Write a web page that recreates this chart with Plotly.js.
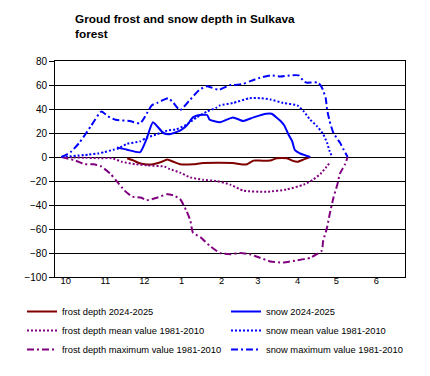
<!DOCTYPE html>
<html>
<head>
<meta charset="utf-8">
<script src="https://cdn.plot.ly/plotly-3.0.1.min.js"></script>
<style>html,body{margin:0;padding:0;background:#fff;}#chart{width:430px;height:376px;}</style>
</head>
<body>
<div id="chart"></div>
<script>
// x values: days since 1 October
var monthStarts = [0, 31, 61, 92, 123, 151, 182, 212, 243];
var monthLabels = ['10', '11', '12', '1', '2', '3', '4', '5', '6'];

var frostDay = [56, 61, 65, 70, 76, 80, 85, 87, 92, 97, 107, 115, 138, 144, 149, 154, 159, 167, 172, 180, 184, 188, 193, 198];
var frost = [-1, -3, -5, -6, -6, -5, -3, -2, -4, -6, -6, -5, -5, -6, -6, -3, -3, -3, -1, -1, -3, -4, -2, 0];

var snowDay = [48, 56, 66, 71, 76, 84, 89, 97, 102, 107, 112, 118, 120, 128, 138, 146, 154, 164, 168, 175, 178, 181, 184, 186, 190, 195, 198];
var snow = [8, 6, 4, 15, 29, 20, 19, 22, 26, 33, 35, 35, 31, 29, 33, 30, 33, 36, 36, 30, 26, 19, 13, 6, 3, 1, 0];

var frostMeanDay = [5, 34, 44, 52, 62, 72, 85, 89, 97, 105, 115, 125, 136, 146, 164, 180, 193, 200, 206, 210, 213];
var frostMean = [0, -1, -1, -4, -6, -7, -8, -10, -13, -17, -19, -20, -23, -28, -29, -27, -23, -19, -14, -9, -5];

var snowMeanDay = [5, 26, 34, 38, 45, 49, 56, 66, 71, 79, 87, 94, 102, 110, 118, 125, 128, 138, 151, 159, 167, 177, 188, 193, 198, 203, 208, 211, 213, 215];
var snowMean = [0, 2, 3, 4, 6, 7, 11, 13, 16, 19, 22, 23, 27, 33, 38, 41, 43, 45, 49, 49, 48, 45, 43, 38, 31, 26, 19, 12, 5, 0];

var frostMaxDay = [5, 16, 23, 30, 36, 43, 47, 54, 60, 67, 71, 79, 87, 92, 97, 102, 105, 107, 113, 120, 128, 136, 144, 151, 159, 167, 177, 188, 198, 203, 207, 208, 211, 213, 216, 219, 221, 225, 227];
var frostMax = [0, -3, -6, -6, -8, -14, -19, -28, -33, -34, -36, -34, -31, -32, -35, -45, -53, -63, -67, -74, -80, -81, -80, -81, -84, -87, -88, -86, -84, -81, -78, -70, -59, -48, -34, -23, -14, -6, 0];

var snowMaxDay = [5, 12, 19, 28, 36, 41, 47, 58, 66, 70, 75, 79, 88, 92, 97, 105, 112, 118, 127, 136, 138, 146, 151, 159, 167, 175, 182, 189, 193, 195, 204, 207, 210, 211, 213, 216, 221, 224, 227];
var snowMax = [0, 4, 12, 26, 38, 34, 31, 30, 28, 34, 43, 45, 49, 45, 39, 48, 56, 59, 56, 60, 60, 61, 63, 66, 68, 67, 68, 68, 63, 62, 62, 58, 49, 40, 30, 20, 12, 6, 0];

var seriesNames = ['frost depth 2024-2025', 'snow 2024-2025', 'frost depth mean value 1981-2010',
  'snow mean value 1981-2010', 'frost depth maximum value 1981-2010', 'snow maximum value 1981-2010'];

var MAROON = '#800000', BLUE = '#0000FF', PURPLE = '#800080';
var DOT = '2px,2px', DASHDOT = '7px,3px,2px,3px';

function tr(x, y, name, color, dash) {
  return {x: x, y: y, name: name, type: 'scatter', mode: 'lines',
    line: {color: color, width: 2, dash: dash, shape: 'spline', smoothing: 0.5},
    hoverinfo: 'skip'};
}

var data = [
  tr(frostDay, frost, seriesNames[0], MAROON, 'solid'),
  tr(snowDay, snow, seriesNames[1], BLUE, 'solid'),
  tr(frostMeanDay, frostMean, seriesNames[2], PURPLE, DOT),
  tr(snowMeanDay, snowMean, seriesNames[3], BLUE, DOT),
  tr(frostMaxDay, frostMax, seriesNames[4], PURPLE, DASHDOT),
  tr(snowMaxDay, snowMax, seriesNames[5], BLUE, DASHDOT)
];

var FONT = 'Liberation Sans, Arial, sans-serif';
var XR = [0, 271.5];
var YR = [-100, 80];

var layout = {
  width: 430, height: 376,
  paper_bgcolor: '#fff', plot_bgcolor: '#fff',
  font: {family: FONT, size: 9.33, color: '#000'},
  margin: {l: 55, r: 25, t: 61, b: 99, autoexpand: false},
  title: {
    text: 'Groud frost and snow depth in Sulkava<br>forest',
    font: {family: FONT, size: 11.8, weight: 'bold', color: '#000'},
    x: 75 / 430, xanchor: 'left', xref: 'container',
    y: 1 - 23 / 376, yanchor: 'top', yref: 'container'
  },
  xaxis: {
    range: XR, showgrid: false, zeroline: false,
    showline: true, linecolor: '#000', linewidth: 1, mirror: true,
    tickmode: 'array', tickvals: monthStarts, ticktext: monthLabels,
    ticks: '', ticklabelposition: 'outside right', ticklabelshift: 5,
    ticklabelstandoff: -5,
    tickfont: {family: FONT, size: 9.33, color: '#000'}
  },
  xaxis2: {
    range: XR, overlaying: 'x', anchor: 'free', position: (0 - YR[0]) / (YR[1] - YR[0]),
    showgrid: false, zeroline: false, showline: false,
    tickmode: 'array', tickvals: monthStarts.slice(1),
    ticks: 'outside', ticklen: 4, tickcolor: '#000', tickwidth: 1,
    showticklabels: false
  },
  yaxis: {
    range: YR, tickmode: 'array', tickvals: [-100, -80, -60, -40, -20, 0, 20, 40, 60, 80],
    showgrid: true, gridcolor: '#000', gridwidth: 1,
    zeroline: true, zerolinecolor: '#000', zerolinewidth: 1,
    showline: true, linecolor: '#000', linewidth: 1, mirror: true,
    ticks: 'outside', ticklen: 5, tickcolor: '#000',
    tickfont: {family: FONT, size: 10, color: '#000'}
  },
  showlegend: true,
  legend: {
    orientation: 'h', x: (22 - 55) / 350, xanchor: 'left',
    y: -0.0926, yanchor: 'top',
    entrywidth: 159, entrywidthmode: 'pixels',
    bgcolor: 'rgba(0,0,0,0)', borderwidth: 0,
    font: {family: FONT, size: 9.33, color: '#000'},
    traceorder: 'normal'
  }
};

Plotly.newPlot('chart', data, layout, {staticPlot: true, displayModeBar: false});
</script>
</body>
</html>
